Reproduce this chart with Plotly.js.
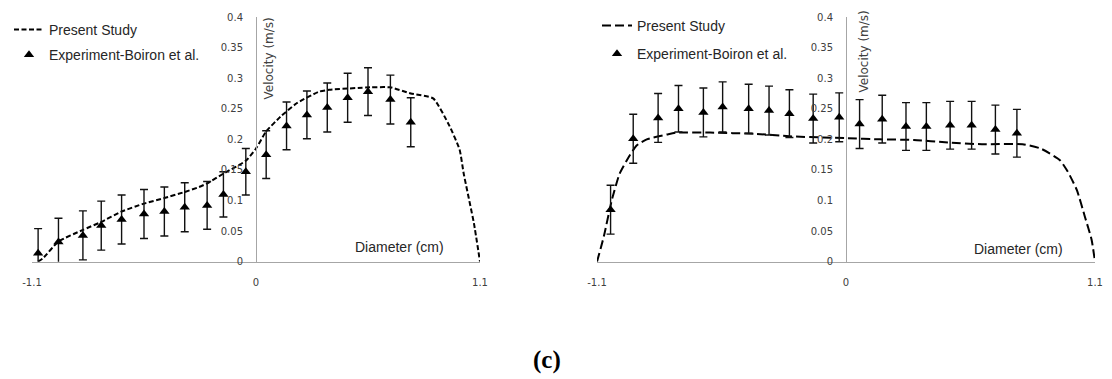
<!DOCTYPE html>
<html>
<head>
<meta charset="utf-8">
<script src="https://cdn.plot.ly/plotly-3.0.1.min.js"></script>
<style>html,body{margin:0;padding:0;background:#fff;}#chart{width:1112px;height:379px;}</style>
</head>
<body>
<div id="chart"></div>
<script>
// ---- Data ----
const seriesNames = ["Present Study", "Experiment-Boiron et al."];
const xTickVals = [-1.1, 0, 1.1];
const xTickText = ["-1.1", "0", "1.1"];
const yTickVals = [0, 0.05, 0.1, 0.15, 0.2, 0.25, 0.3, 0.35, 0.4];
const yTickText = ["0", "0.05", "0.1", "0.15", "0.2", "0.25", "0.3", "0.35", "0.4"];

// Left panel
const leftSimX = [-1.07,-1.045,-0.97,-0.85,-0.76,-0.66,-0.55,-0.45,-0.35,-0.28,-0.24,-0.16,-0.05,0,0.05,0.12,0.2,0.31,0.36,0.56,0.66,0.76,0.87,0.95,1.0,1.02,1.07,1.1];
const leftSimY = [0,0.006,0.033,0.052,0.065,0.082,0.095,0.104,0.114,0.122,0.128,0.144,0.165,0.185,0.213,0.237,0.259,0.278,0.281,0.285,0.285,0.275,0.267,0.222,0.183,0.144,0.063,0];
const leftExpX = [-1.07,-0.97,-0.85,-0.76,-0.66,-0.55,-0.45,-0.35,-0.24,-0.16,-0.05,0.05,0.15,0.25,0.35,0.45,0.55,0.66,0.76];
const leftExpY = [0.014,0.032,0.043,0.059,0.069,0.078,0.082,0.089,0.092,0.11,0.147,0.175,0.222,0.24,0.252,0.268,0.278,0.265,0.228];
const leftExpErr = [0.04,0.039,0.04,0.04,0.04,0.04,0.04,0.04,0.039,0.037,0.038,0.039,0.039,0.039,0.04,0.04,0.039,0.04,0.04];

// Right panel
const rightSimX = [-1.1,-1.07,-1.035,-1.0,-0.955,-0.925,-0.88,-0.79,-0.75,-0.6,-0.4,-0.25,-0.1,0,0.15,0.3,0.45,0.6,0.78,0.86,0.945,0.98,1.02,1.055,1.085,1.1];
const rightSimY = [0,0.041,0.1,0.144,0.174,0.19,0.2,0.208,0.211,0.211,0.209,0.205,0.203,0.202,0.2,0.199,0.195,0.192,0.192,0.185,0.166,0.147,0.117,0.074,0.036,0];
const rightExpX = [-1.04,-0.94,-0.83,-0.74,-0.63,-0.545,-0.43,-0.34,-0.25,-0.145,-0.03,0.06,0.16,0.265,0.355,0.46,0.555,0.66,0.755];
const rightExpY = [0.085,0.201,0.235,0.25,0.244,0.253,0.25,0.247,0.242,0.234,0.236,0.225,0.233,0.221,0.221,0.223,0.223,0.216,0.21];
const rightExpErr = [0.04,0.04,0.04,0.038,0.04,0.041,0.04,0.04,0.039,0.04,0.04,0.04,0.039,0.039,0.039,0.039,0.039,0.04,0.039];

// ---- Geometry helpers (pixel -> paper) ----
const W = 1112, H = 379;
const px = v => v / W;
const py = v => (H - v) / H;

const tickFont = {family: "DejaVu Sans, Verdana, sans-serif", size: 10, color: "#404040"};
const axisGray = "#a6a6a6";

function xAxis(domain) {
  return {domain: domain, range: [-1.1, 1.1], anchor: "y", showgrid: false, zeroline: false,
    showline: true, linecolor: axisGray, linewidth: 1, ticks: "", tickvals: xTickVals, ticktext: xTickText,
    tickfont: tickFont, ticklabelstandoff: 11, fixedrange: true};
}
function yAxis(pos) {
  return {domain: [py(261.7), py(17)], range: [0, 0.4], anchor: "free", position: pos, showgrid: false,
    zeroline: false, showline: true, linecolor: axisGray, linewidth: 1, ticks: "", tickvals: yTickVals,
    ticktext: yTickText, tickfont: tickFont, ticklabelstandoff: 11, fixedrange: true};
}

const errStyle = {type: "data", symmetric: true, color: "#111", thickness: 1.4, width: 4};
const markerStyle = {symbol: "triangle-up", size: 9, color: "#000"};

const traces = [
  {x: leftSimX, y: leftSimY, xaxis: "x", yaxis: "y", mode: "lines", name: seriesNames[0],
   line: {color: "#000", width: 2, dash: "5px,2.5px", shape: "spline", smoothing: 0.5},
   legend: "legend", legendgroup: "a"},
  {x: leftExpX, y: leftExpY, xaxis: "x", yaxis: "y", mode: "markers", name: seriesNames[1],
   marker: markerStyle, error_y: Object.assign({array: leftExpErr}, errStyle),
   legend: "legend", legendgroup: "b"},
  {x: rightSimX, y: rightSimY, xaxis: "x2", yaxis: "y2", mode: "lines", name: seriesNames[0],
   line: {color: "#000", width: 2, dash: "9px,4px", shape: "spline", smoothing: 0.5},
   legend: "legend2", legendgroup: "c"},
  {x: rightExpX, y: rightExpY, xaxis: "x2", yaxis: "y2", mode: "markers", name: seriesNames[1],
   marker: markerStyle, error_y: Object.assign({array: rightExpErr}, errStyle),
   legend: "legend2", legendgroup: "d"}
];

const legendFont = {family: "Liberation Sans, Arial, sans-serif", size: 14, color: "#262626"};
const annFontY = {family: "DejaVu Sans, Verdana, sans-serif", size: 12, color: "#404040"};
const annFontX = {family: "Liberation Sans, Arial, sans-serif", size: 14, color: "#262626"};

const layout = {
  width: W, height: H, margin: {l: 0, r: 0, t: 0, b: 0},
  paper_bgcolor: "#fff", plot_bgcolor: "rgba(0,0,0,0)",
  showlegend: true,
  xaxis: xAxis([px(32), px(480)]),
  yaxis: yAxis(px(256)),
  xaxis2: Object.assign(xAxis([px(597), px(1095)]), {anchor: "y2"}),
  yaxis2: yAxis(px(846)),
  legend: {x: px(9), xanchor: "left", y: py(14), yanchor: "top", font: legendFont,
    bgcolor: "rgba(0,0,0,0)", traceorder: "grouped", tracegroupgap: 4, itemwidth: 30},
  legend2: {x: px(597), xanchor: "left", y: py(10), yanchor: "top", font: legendFont,
    bgcolor: "rgba(0,0,0,0)", traceorder: "grouped", tracegroupgap: 7, itemwidth: 30},
  annotations: [
    {text: "Velocity (m/s)", xref: "paper", yref: "paper", x: px(268), y: py(58.5), textangle: -90,
     showarrow: false, font: annFontY, xanchor: "center", yanchor: "middle"},
    {text: "Velocity (m/s)", xref: "paper", yref: "paper", x: px(864), y: py(51.5), textangle: -90,
     showarrow: false, font: annFontY, xanchor: "center", yanchor: "middle"},
    {text: "Diameter (cm)", xref: "paper", yref: "paper", x: px(399), y: py(247),
     showarrow: false, font: annFontX, xanchor: "center", yanchor: "middle"},
    {text: "Diameter (cm)", xref: "paper", yref: "paper", x: px(1018), y: py(249),
     showarrow: false, font: annFontX, xanchor: "center", yanchor: "middle"},
    {text: "<b>(c)</b>", xref: "paper", yref: "paper", x: px(547), y: py(360),
     showarrow: false, font: {family: "Liberation Serif, Times New Roman, serif", size: 25, color: "#000"},
     xanchor: "center", yanchor: "middle"}
  ]
};

Plotly.newPlot("chart", traces, layout, {staticPlot: true, displayModeBar: false});
</script>
</body>
</html>
